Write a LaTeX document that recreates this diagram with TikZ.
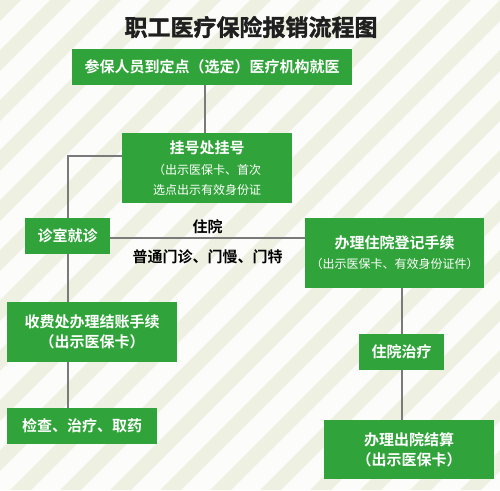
\documentclass[tikz,border=0pt]{standalone}
\usepackage{fontspec}
\setmainfont{Noto Sans CJK SC}[BoldFont={Noto Sans CJK SC Bold}]
\newfontfamily\titlefont{Noto Sans CJK SC Bold}[FakeBold=1.6]
\definecolor{boxgreen}{HTML}{30A43A}
\definecolor{stripegreen}{HTML}{EEF1E2}
\definecolor{paper}{HTML}{FCFDFA}
\definecolor{linegray}{HTML}{7A7A7A}
\newcommand{\subnote}{\fontsize{12}{19}\selectfont\mdseries}
\begin{document}
\begin{tikzpicture}[
    x=1pt, y=-1pt,
    stepbox/.style={rectangle, fill=boxgreen, text=white, inner sep=0pt, align=center,
        font=\fontsize{15}{20}\selectfont\bfseries},
    link/.style={draw=linegray, line width=2pt},
    linklabel/.style={font=\fontsize{15}{18}\selectfont\bfseries, text=black}
]
    \useasboundingbox (0,0) rectangle (500,490);

    % --- BACKGROUND STRIPES ---
    \fill[paper] (0,0) rectangle (500,490);
    \begin{scope}
        \clip (0,0) rectangle (500,490);
        \foreach \k in {0,50,...,1000}
            \fill[stripegreen] (\k,0) -- (\k+21,0) -- (\k-469,490) -- (\k-490,490) -- cycle;
    \end{scope}

    % --- TITLE ---
    \node[font=\fontsize{23}{26}\titlefont, text=black!88] (title) at (251,27) {职工医疗保险报销流程图};

    % --- BOXES ---
    \node[stepbox, minimum width=280, minimum height=36] (visit) at (212,67) {参保人员到定点（选定）医疗机构就医};
    \node[stepbox, minimum width=170, minimum height=70] (register) at (207,168)
        {挂号处挂号\\[1pt]{\subnote（出示医保卡、首次}\\{\subnote 选点出示有效身份证}};
    \node[stepbox, minimum width=85, minimum height=36] (clinic) at (67.5,236) {诊室就诊};
    \node[stepbox, minimum width=179, minimum height=70] (admit) at (394.5,253)
        {办理住院登记手续\\{\subnote（出示医保卡、有效身份证件）}};
    \node[stepbox, minimum width=170, minimum height=60] (cashier) at (92,332) {收费处办理结账手续\\（出示医保卡）};
    \node[stepbox, minimum width=150, minimum height=36] (treat) at (82,426) {检查、治疗、取药};
    \node[stepbox, minimum width=85, minimum height=36] (ward) at (401.5,352) {住院治疗};
    \node[stepbox, minimum width=170, minimum height=59] (discharge) at (409,449.5) {办理出院结算\\（出示医保卡）};

    % --- CONNECTORS ---
    \draw[link] ([xshift=-2pt]register.north |- visit.south) -- ([xshift=-2pt]register.north);
    \draw[link] ([yshift=12pt]register.west) -| (clinic.north);
    \draw[link] ([yshift=-2pt]clinic.east) -- ([yshift=-2pt]clinic.east -| admit.west)
        node[midway, linklabel, above, yshift=0pt] (inlabel) {住院}
        node[midway, linklabel, below, yshift=-7pt] (outlabel) {普通门诊、门慢、门特};
    \draw[link] (clinic.south) -- (clinic.south |- cashier.north);
    \draw[link] (clinic.south |- cashier.south) -- (clinic.south |- treat.north);
    \draw[link] (ward.north |- admit.south) -- (ward.north);
    \draw[link] (ward.south) -- (ward.south |- discharge.north);
\end{tikzpicture}
\end{document}
